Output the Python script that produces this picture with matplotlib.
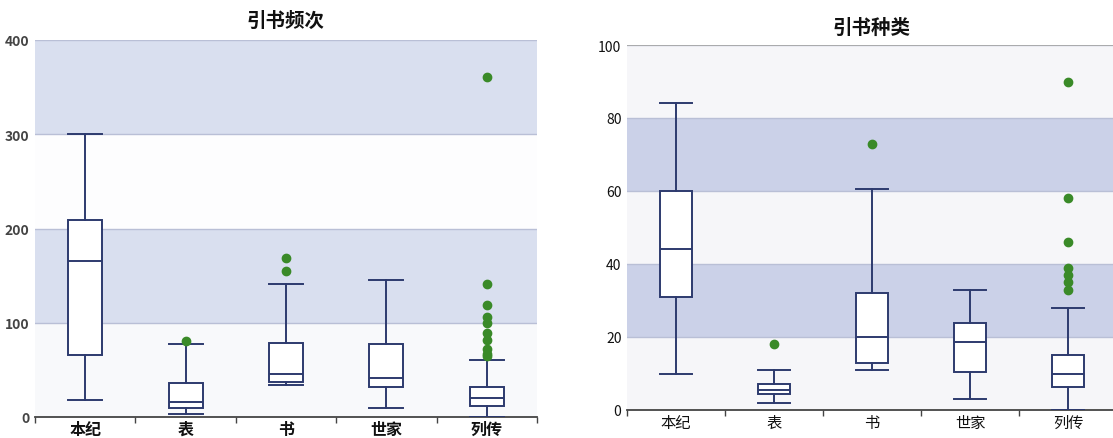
import matplotlib
matplotlib.use("Agg")
import matplotlib.pyplot as plt

plt.rcParams['font.family'] = ['Noto Sans CJK SC', 'DejaVu Sans']

categories = ['本纪', '表', '书', '世家', '列传']

# 引书频次
freq_whislo = [18, 3, 34, 10, 0]
freq_q1 = [66, 10, 37, 32, 12]
freq_med = [165, 16, 46, 41, 20.5]
freq_q3 = [209, 36, 79, 77, 31.5]
freq_whishi = [300, 77, 141, 145, 61]
freq_fliers = [[], [81], [155, 169], [],
               [65, 67, 72, 82, 89, 100, 106, 119, 141, 361]]
freq_ticks = [0, 100, 200, 300, 400]

# 引书种类
kind_whislo = [10, 2, 11, 3, 0]
kind_q1 = [31, 4.3, 13, 10.5, 6.4]
kind_med = [44, 5.5, 20, 18.5, 10]
kind_q3 = [60, 7, 32, 23.7, 15]
kind_whishi = [84, 11, 60.5, 33, 28]
kind_fliers = [[], [18], [73], [], [33, 35, 37, 39, 46, 58, 90]]
kind_ticks = [0, 20, 40, 60, 80, 100]

EDGE = '#2d3a6e'
GREEN = '#3a8a28'

fig = plt.figure(figsize=(11.13, 4.39), dpi=100)
fig.patch.set_facecolor('white')


def make_stats(lo, q1, med, q3, hi, fl):
    return [dict(whislo=a, q1=b, med=c, q3=d, whishi=e, fliers=f, label=lab)
            for a, b, c, d, e, f, lab in zip(lo, q1, med, q3, hi, fl, categories)]


def draw(ax, stats, ticks, bands, title, width, ylab_kw, xlab_kw, title_y):
    n = len(categories)
    ax.set_xlim(0, n)
    ax.set_ylim(ticks[0], ticks[-1])
    for (y0, y1, c) in bands:
        ax.axhspan(y0, y1, color=c, lw=0, zorder=0)
    for t in ticks[1:]:
        ax.axhline(t, color='#b9bfd6', lw=1.0, zorder=0.5)
    pos = [i + 0.5 for i in range(n)]
    ax.bxp(stats, positions=pos, widths=width, patch_artist=True,
           showfliers=True, manage_ticks=False,
           boxprops=dict(facecolor='white', edgecolor=EDGE, linewidth=1.4),
           medianprops=dict(color=EDGE, linewidth=1.4),
           whiskerprops=dict(color=EDGE, linewidth=1.4),
           capprops=dict(color=EDGE, linewidth=1.4),
           capwidths=width,
           flierprops=dict(marker='o', markerfacecolor=GREEN,
                           markeredgecolor=GREEN, markersize=6),
           zorder=3)
    for s in ['top', 'right', 'left']:
        ax.spines[s].set_visible(False)
    ax.spines['bottom'].set_color('#444444')
    ax.spines['bottom'].set_linewidth(1.3)
    ax.set_xticks(range(n + 1))
    ax.set_xticklabels([])
    ax.tick_params(axis='x', which='major', length=4, color='#444444', width=1)
    ax.set_xticks(pos, minor=True)
    ax.set_xticklabels(categories, minor=True, **xlab_kw)
    ax.tick_params(axis='x', which='minor', length=0, pad=3)
    ax.set_yticks(ticks)
    ax.set_yticklabels([str(t) for t in ticks], **ylab_kw)
    ax.tick_params(axis='y', length=0, pad=4)
    ax.text(0.5, title_y, title, transform=ax.transAxes, ha='center',
            va='center', fontsize=14, fontweight='bold', color='#111111')


ax1 = fig.add_axes([35 / 1113, 21 / 439, 502 / 1113, 377 / 439])
draw(ax1,
     make_stats(freq_whislo, freq_q1, freq_med, freq_q3, freq_whishi, freq_fliers),
     freq_ticks,
     [(0, 100, '#f8f9fb'), (100, 200, '#d9dfef'), (200, 300, '#fdfdfe'),
      (300, 400, '#d9dfef')],
     '引书频次', 0.34,
     dict(fontsize=10, color='#444444', fontweight='bold'),
     dict(fontsize=11.5, color='#111111', fontweight='bold'),
     1 + 20 / 377)

ax2 = fig.add_axes([627 / 1113, 28 / 439, 490 / 1113, 365 / 439])
draw(ax2,
     make_stats(kind_whislo, kind_q1, kind_med, kind_q3, kind_whishi, kind_fliers),
     kind_ticks,
     [(0, 20, '#f6f6f9'), (20, 40, '#cbd1e8'), (40, 60, '#f6f6f9'),
      (60, 80, '#cbd1e8'), (80, 100, '#f6f6f9')],
     '引书种类', 0.33,
     dict(fontsize=10, color='#111111'),
     dict(fontsize=11, color='#111111'),
     1 + 18 / 365)
ax2.axhline(100, color='#a9a9a9', lw=1.3, zorder=1)

fig.savefig('out.png', dpi=100, facecolor='white')
